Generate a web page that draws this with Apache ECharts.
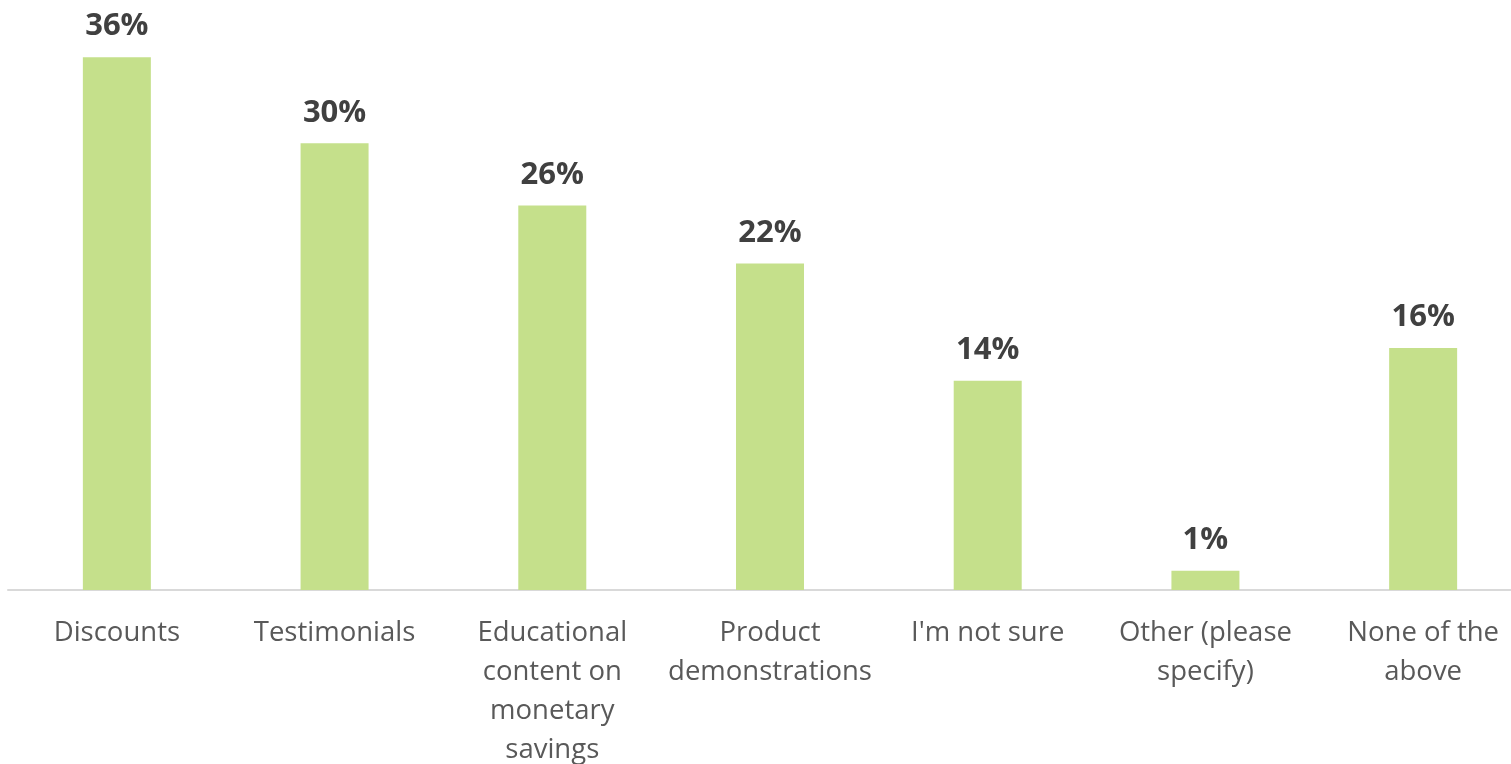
<!DOCTYPE html>
<html>
<head>
<meta charset="utf-8">
<script src="https://cdn.jsdelivr.net/npm/echarts@6/dist/echarts.min.js"></script>
<style>
html,body{margin:0;padding:0;background:#fff;}
#chart{width:1511px;height:764px;}
</style>
</head>
<body>
<div id="chart"></div>
<script>
const categories = [
  "Discounts",
  "Testimonials",
  "Educational\ncontent on\nmonetary\nsavings",
  "Product\ndemonstrations",
  "I'm not sure",
  "Other (please\nspecify)",
  "None of the\nabove"
];
const values = [35.9, 30.1, 25.9, 22.0, 14.1, 1.3, 16.3];

const chart = echarts.init(document.getElementById('chart'));
chart.setOption({
  animation: false,
  grid: { left: 8, width: 1524, top: 26, bottom: 174, containLabel: false, outerBoundsMode: 'none' },
  xAxis: {
    type: 'category',
    data: categories,
    axisLine: { lineStyle: { color: '#d9d9d9', width: 2 } },
    axisTick: { show: false },
    axisLabel: {
      interval: 0,
      margin: 24,
      color: '#595959',
      fontFamily: 'Open Sans',
      fontSize: 27.5,
      lineHeight: 39
    }
  },
  yAxis: {
    type: 'value',
    min: 0,
    max: 38,
    show: false,
    splitLine: { show: false }
  },
  series: [{
    type: 'bar',
    data: values,
    barWidth: 68,
    itemStyle: { color: '#C5E08B' },
    label: {
      show: true,
      position: 'top',
      distance: 15,
      color: '#404040',
      fontFamily: 'Open Sans',
      fontWeight: 'bold',
      fontSize: 31,
      formatter: p => Math.round(p.value) + '%'
    }
  }]
});
</script>
</body>
</html>
